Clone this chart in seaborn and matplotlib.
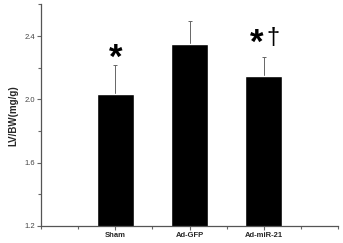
import pandas as pd
import matplotlib.pyplot as plt
import seaborn as sns
from matplotlib.ticker import MultipleLocator

groups = ['Sham', 'Ad-GFP', 'Ad-miR-21']
lvbw = [2.035, 2.348, 2.146]
sem = [0.18, 0.147, 0.12]

df = pd.DataFrame({'group': groups, 'lvbw': lvbw})

sns.set_style('ticks')
plt.rcParams['font.family'] = ['Liberation Sans', 'DejaVu Sans']
fig = plt.figure(figsize=(3.43, 2.43), dpi=100)
ax = fig.add_axes([0.1195, 0.07, 0.866, 0.912])

sns.barplot(x='group', y='lvbw', data=df, color='black', width=0.5,
            errorbar=None, ax=ax, zorder=2)
ax.errorbar(range(len(groups)), lvbw, yerr=[[0] * len(sem), sem], fmt='none',
            ecolor='#666666', elinewidth=0.7, capsize=1.5, capthick=0.7, zorder=1)

# significance marks
ax.text(0.0, 2.199, '*', ha='center', va='baseline', fontsize=25,
        fontweight='bold', color='black')
ax.text(1.9, 2.294, '*', ha='center', va='baseline', fontsize=25,
        fontweight='bold', color='black')
ax.text(2.128, 2.347, '\u2020', ha='center', va='baseline', fontsize=17,
        color='black')

ax.set_xlim(-1, 3)
ax.set_ylim(1.2, 2.6)
ax.set_yticks([1.2, 1.6, 2.0, 2.4])
ax.yaxis.set_minor_locator(MultipleLocator(0.2))
ax.xaxis.set_minor_locator(MultipleLocator(0.5))
ax.set_xlabel('')
ax.set_ylabel('LV/BW(mg/g)', fontsize=7, fontweight='bold', labelpad=4)
ax.tick_params(axis='both', which='major', length=3, width=0.8,
               color='#666666', labelsize=5.5, pad=1.5)
ax.tick_params(axis='y', labelcolor='#444444')
ax.tick_params(axis='both', which='minor', length=2, width=0.8, color='#666666')
for lbl in ax.get_xticklabels():
    lbl.set_fontweight('bold')
for s in ['left', 'bottom']:
    ax.spines[s].set_color('#555555')
    ax.spines[s].set_linewidth(0.9)
sns.despine(ax=ax)

plt.savefig('out.png', dpi=100)
plt.close()
